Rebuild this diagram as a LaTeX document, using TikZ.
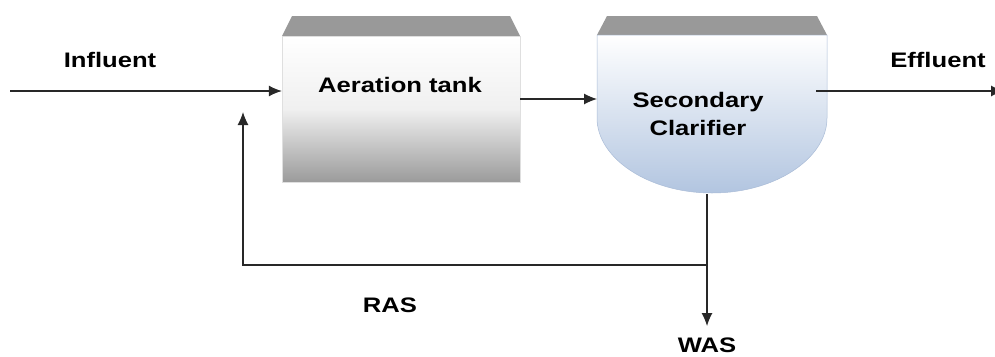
\documentclass[tikz,border=0pt]{standalone}
\usepackage{fontspec}
\setmainfont{Liberation Sans}[FakeStretch=1.22]
\usetikzlibrary{arrows.meta}
\definecolor{lidgray}{RGB}{153,153,153}
\definecolor{tankbot}{RGB}{155,155,155}
\definecolor{clarbot}{RGB}{178,197,224}
\definecolor{clarline}{RGB}{170,188,215}
\definecolor{linecol}{RGB}{40,40,40}
\tikzset{
  lbl/.style={font=\fontsize{21}{28}\selectfont\bfseries, text=black, inner sep=0pt, align=center},
  conn/.style={draw=linecol, line width=1.1pt},
  arr/.style={conn, -{Latex[length=13pt,width=11pt]}},
  lid/.style={fill=lidgray, draw=none},
  tankbody/.style={draw=gray!25, line width=0.4pt, top color=white, bottom color=tankbot, middle color=gray!12, minimum width=238pt, minimum height=146pt, inner sep=0pt, shading angle=0}
}
\begin{document}
\begin{tikzpicture}[x=1pt,y=-1pt]
\useasboundingbox (0,0) rectangle (995,356);
\clip (0,0) rectangle (995,356);
% aeration tank
\fill[lid] (292,16) -- (510,16) -- (520,36) -- (282,36) -- cycle;
\node[tankbody] (at) at (401,109) {};
\node[lbl] (atlbl) at (400,85) {Aeration tank};
% secondary clarifier
\fill[lid] (607,16) -- (817,16) -- (827,35) -- (597,35) -- cycle;
\shade[top color=white, bottom color=clarbot, draw=clarline, line width=0.5pt]
  (597,35) -- (597,118) .. controls (597,158) and (648,193) .. (712,193)
  .. controls (776,193) and (827,158) .. (827,118) -- (827,35) -- cycle;
\node[lbl] (cllbl) at (698,114) {Secondary\\Clarifier};
% named points
\coordinate (src) at (10,91);
\coordinate (atout) at (520,99);
\coordinate (clin) at (597,99);
\coordinate (clout) at (816,91);
\coordinate (sink) at (1004,91);
\coordinate (clbot) at (707,194);
\coordinate (junc) at (707,265);
\coordinate (rasend) at (243,112);
\coordinate (wasend) at (707,326);
% connectors
\draw[arr] (src) -- (src -| at.west);
\draw[arr] (atout) -- (clin);
\draw[arr] (clout) -- (sink);
\draw[conn] (clbot) -- (junc);
\draw[arr] (junc) -| (rasend);
\draw[arr] (junc) -- (wasend);
% labels
\node[lbl] (inf) at (110,60) {Influent};
\node[lbl] (eff) at (938,60) {Effluent};
\node[lbl] (ras) at (390,305) {RAS};
\node[lbl] (was) at (707,345) {WAS};
\end{tikzpicture}
\end{document}
